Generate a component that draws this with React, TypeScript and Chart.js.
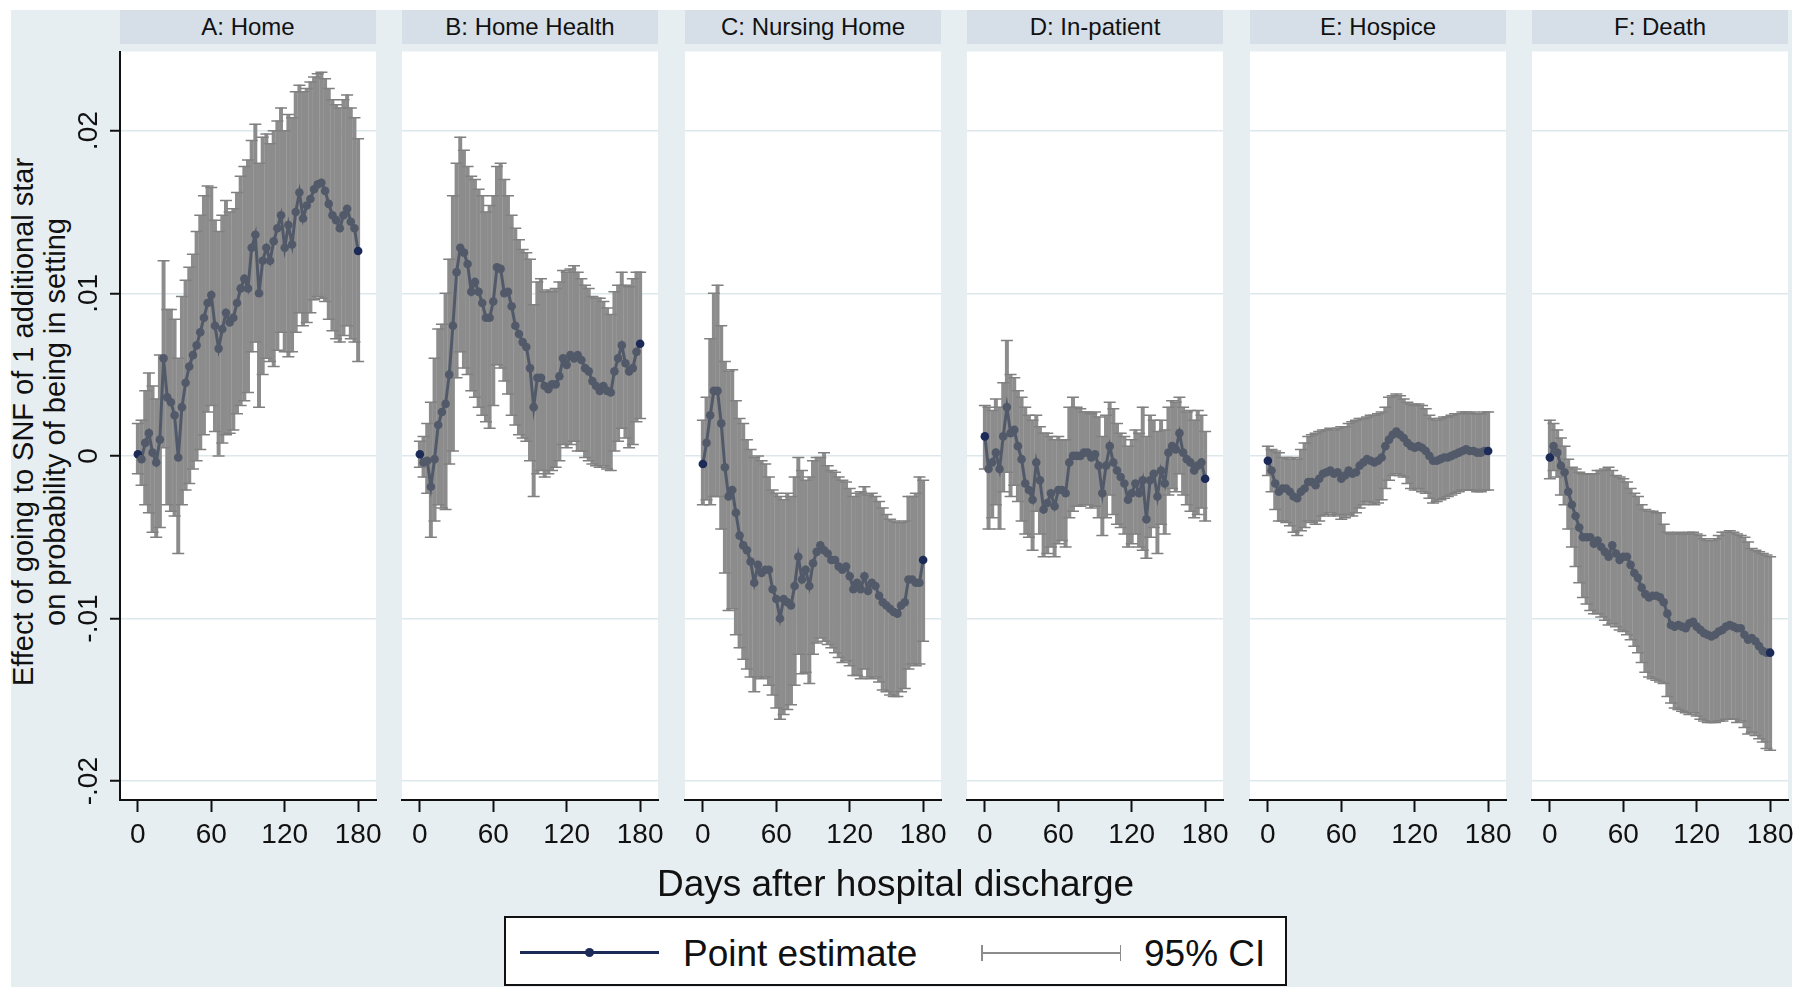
import React, { useEffect, useRef } from "react";
import { Chart, registerables } from "chart.js";

Chart.register(...registerables);

// ---------------- data ----------------
const days = [0, 3, 6, 9, 12, 15, 18, 21, 24, 27, 30, 33, 36, 39, 42, 45, 48, 51, 54, 57, 60, 63, 66, 69, 72, 75, 78, 81, 84, 87, 90, 93, 96, 99, 102, 105, 108, 111, 114, 117, 120, 123, 126, 129, 132, 135, 138, 141, 144, 147, 150, 153, 156, 159, 162, 165, 168, 171, 174, 177, 180];

const panelTitles = ["A: Home", "B: Home Health", "C: Nursing Home", "D: In-patient", "E: Hospice", "F: Death"];
const xTickValues = [0, 60, 120, 180];
const xTickLabels = ["0", "60", "120", "180"];
const yTickValues = [-0.02, -0.01, 0, 0.01, 0.02];
const yTickLabels = ["-.02", "-.01", "0", ".01", ".02"];
const yAxisTitleLines = ["Effect of going to SNF of 1 additional star", "on probability of being in setting"];
const xAxisTitle = "Days after hospital discharge";
const legendLabels = ["Point estimate", "95% CI"];

// A: Home
const homeEst = [0.0001, -0.0002, 0.0008, 0.0014, 0.0002, -0.0004, 0.0010, 0.0060, 0.0036, 0.0033,
  0.0025, -0.0001, 0.0030, 0.0045, 0.0055, 0.0062, 0.0068, 0.0076, 0.0085, 0.0094,
  0.0099, 0.0080, 0.0066, 0.0078, 0.0088, 0.0082, 0.0085, 0.0094, 0.0103, 0.0109,
  0.0103, 0.0128, 0.0136, 0.0100, 0.0120, 0.0128, 0.0120, 0.0132, 0.0140, 0.0148,
  0.0128, 0.0142, 0.0130, 0.0150, 0.0162, 0.0146, 0.0154, 0.0158, 0.0164, 0.0167,
  0.0168, 0.0163, 0.0155, 0.0148, 0.0145, 0.0140, 0.0148, 0.0152, 0.0144, 0.0140,
  0.0126];
const homeLo = [-0.0011, -0.0018, -0.0030, -0.0035, -0.0047, -0.0050, -0.0044, 0.0005, -0.0030, -0.0034,
  -0.0037, -0.0060, -0.0030, -0.0021, -0.0017, -0.0008, -0.0003, 0.0004, 0.0013, 0.0027,
  0.0031, 0.0015, 0.0000, 0.0008, 0.0013, 0.0014, 0.0016, 0.0026, 0.0031, 0.0034,
  0.0039, 0.0064, 0.0070, 0.0030, 0.0050, 0.0060, 0.0058, 0.0055, 0.0065, 0.0076,
  0.0064, 0.0061, 0.0064, 0.0076, 0.0088, 0.0080, 0.0082, 0.0088, 0.0096, 0.0098,
  0.0097, 0.0095, 0.0084, 0.0077, 0.0072, 0.0070, 0.0074, 0.0080, 0.0072, 0.0070,
  0.0058];
const homeHi = [0.0020, 0.0022, 0.0040, 0.0051, 0.0043, 0.0035, 0.0062, 0.0120, 0.0090, 0.0090,
  0.0084, 0.0060, 0.0098, 0.0108, 0.0116, 0.0124, 0.0138, 0.0148, 0.0160, 0.0166,
  0.0165, 0.0145, 0.0138, 0.0148, 0.0157, 0.0150, 0.0152, 0.0162, 0.0172, 0.0178,
  0.0182, 0.0194, 0.0204, 0.0180, 0.0196, 0.0198, 0.0192, 0.0200, 0.0206, 0.0214,
  0.0200, 0.0210, 0.0208, 0.0224, 0.0228, 0.0224, 0.0226, 0.0230, 0.0233, 0.0235,
  0.0236, 0.0232, 0.0226, 0.0219, 0.0216, 0.0214, 0.0219, 0.0222, 0.0214, 0.0208,
  0.0195];

// B: Home Health
const homeHealthEst = [0.0001, -0.0004, -0.0003, -0.0019, -0.0002, 0.0019, 0.0027, 0.0032, 0.0050, 0.0080,
  0.0113, 0.0128, 0.0125, 0.0118, 0.0101, 0.0107, 0.0101, 0.0094, 0.0085, 0.0085,
  0.0095, 0.0116, 0.0115, 0.0100, 0.0101, 0.0092, 0.0080, 0.0075, 0.0070, 0.0067,
  0.0054, 0.0030, 0.0048, 0.0048, 0.0043, 0.0041, 0.0044, 0.0044, 0.0049, 0.0060,
  0.0056, 0.0062, 0.0060, 0.0062, 0.0059, 0.0054, 0.0052, 0.0046, 0.0043, 0.0040,
  0.0043, 0.0040, 0.0039, 0.0052, 0.0060, 0.0068, 0.0057, 0.0052, 0.0054, 0.0064,
  0.0069];
const homeHealthLo = [-0.0007, -0.0013, -0.0023, -0.0050, -0.0040, -0.0030, -0.0032, -0.0033, -0.0005, 0.0003,
  0.0048, 0.0064, 0.0054, 0.0050, 0.0040, 0.0036, 0.0030, 0.0025, 0.0021, 0.0017,
  0.0031, 0.0056, 0.0054, 0.0046, 0.0038, 0.0025, 0.0019, 0.0013, 0.0011, 0.0009,
  -0.0003, -0.0025, -0.0011, -0.0009, -0.0013, -0.0011, -0.0009, -0.0007, -0.0003, 0.0007,
  0.0005, 0.0007, 0.0009, 0.0003, 0.0003, -0.0001, -0.0003, -0.0005, -0.0006, -0.0007,
  -0.0006, -0.0008, -0.0009, 0.0003, 0.0009, 0.0017, 0.0011, 0.0005, 0.0007, 0.0021,
  0.0023];
const homeHealthHi = [0.0009, 0.0012, 0.0020, 0.0033, 0.0060, 0.0078, 0.0081, 0.0100, 0.0121, 0.0160,
  0.0180, 0.0196, 0.0188, 0.0178, 0.0172, 0.0170, 0.0164, 0.0160, 0.0150, 0.0154,
  0.0160, 0.0178, 0.0180, 0.0170, 0.0160, 0.0148, 0.0140, 0.0133, 0.0127, 0.0125,
  0.0121, 0.0093, 0.0107, 0.0109, 0.0101, 0.0102, 0.0101, 0.0103, 0.0107, 0.0114,
  0.0113, 0.0115, 0.0117, 0.0113, 0.0109, 0.0105, 0.0103, 0.0098, 0.0097, 0.0097,
  0.0095, 0.0091, 0.0087, 0.0101, 0.0105, 0.0113, 0.0105, 0.0104, 0.0109, 0.0113,
  0.0113];

// C: Nursing Home
const nursingEst = [-0.0005, 0.0008, 0.0025, 0.0040, 0.0040, 0.0020, -0.0007, -0.0025, -0.0021, -0.0035,
  -0.0049, -0.0055, -0.0058, -0.0065, -0.0078, -0.0067, -0.0072, -0.0070, -0.0070, -0.0082,
  -0.0088, -0.0100, -0.0088, -0.0090, -0.0092, -0.0080, -0.0062, -0.0076, -0.0070, -0.0080,
  -0.0066, -0.0059, -0.0055, -0.0058, -0.0060, -0.0064, -0.0064, -0.0068, -0.0070, -0.0068,
  -0.0074, -0.0082, -0.0078, -0.0082, -0.0074, -0.0083, -0.0078, -0.0080, -0.0086, -0.0090,
  -0.0092, -0.0094, -0.0096, -0.0097, -0.0092, -0.0090, -0.0076, -0.0076, -0.0078, -0.0078,
  -0.0064];
const nursingLo = [-0.0030, -0.0027, -0.0030, -0.0025, -0.0025, -0.0045, -0.0072, -0.0095, -0.0094, -0.0110,
  -0.0118, -0.0125, -0.0131, -0.0136, -0.0145, -0.0136, -0.0137, -0.0136, -0.0141, -0.0147,
  -0.0155, -0.0162, -0.0159, -0.0156, -0.0153, -0.0141, -0.0122, -0.0134, -0.0133, -0.0140,
  -0.0122, -0.0115, -0.0112, -0.0114, -0.0116, -0.0118, -0.0121, -0.0124, -0.0127, -0.0126,
  -0.0129, -0.0135, -0.0135, -0.0137, -0.0131, -0.0136, -0.0137, -0.0136, -0.0139, -0.0144,
  -0.0145, -0.0147, -0.0148, -0.0148, -0.0145, -0.0143, -0.0131, -0.0128, -0.0129, -0.0128,
  -0.0114];
const nursingHi = [0.0022, 0.0036, 0.0072, 0.0100, 0.0105, 0.0080, 0.0058, 0.0052, 0.0053, 0.0034,
  0.0023, 0.0020, 0.0010, 0.0004, -0.0001, 0.0000, -0.0003, -0.0005, -0.0013, -0.0021,
  -0.0023, -0.0025, -0.0027, -0.0023, -0.0025, -0.0013, -0.0001, -0.0009, -0.0015, -0.0013,
  -0.0003, -0.0001, -0.0001, 0.0002, -0.0006, -0.0009, -0.0010, -0.0013, -0.0015, -0.0016,
  -0.0020, -0.0025, -0.0023, -0.0022, -0.0019, -0.0024, -0.0023, -0.0025, -0.0028, -0.0032,
  -0.0036, -0.0039, -0.0040, -0.0041, -0.0041, -0.0040, -0.0025, -0.0025, -0.0023, -0.0013,
  -0.0015];

// D: In-patient
const inpatientEst = [0.0012, -0.0008, -0.0004, 0.0002, -0.0008, 0.0012, 0.0030, 0.0014, 0.0016, 0.0006,
  -0.0002, -0.0017, -0.0021, -0.0027, -0.0004, -0.0015, -0.0033, -0.0029, -0.0023, -0.0031,
  -0.0021, -0.0021, -0.0023, -0.0004, 0.0000, 0.0000, 0.0000, 0.0002, 0.0002, -0.0001,
  0.0001, -0.0006, -0.0023, -0.0006, 0.0006, -0.0004, -0.0009, -0.0013, -0.0017, -0.0027,
  -0.0023, -0.0017, -0.0023, -0.0015, -0.0039, -0.0015, -0.0011, -0.0025, -0.0009, -0.0017,
  0.0002, 0.0006, 0.0004, 0.0014, 0.0002, -0.0002, -0.0004, -0.0009, -0.0006, -0.0004,
  -0.0014];
const inpatientLo = [-0.0008, -0.0045, -0.0038, -0.0030, -0.0045, -0.0022, -0.0010, -0.0025, -0.0018, -0.0028,
  -0.0040, -0.0048, -0.0050, -0.0058, -0.0034, -0.0048, -0.0062, -0.0060, -0.0056, -0.0062,
  -0.0054, -0.0052, -0.0056, -0.0038, -0.0034, -0.0031, -0.0031, -0.0030, -0.0030, -0.0032,
  -0.0031, -0.0038, -0.0049, -0.0038, -0.0024, -0.0036, -0.0042, -0.0044, -0.0048, -0.0056,
  -0.0054, -0.0048, -0.0056, -0.0058, -0.0063, -0.0050, -0.0044, -0.0060, -0.0042, -0.0048,
  -0.0024, -0.0020, -0.0022, -0.0011, -0.0024, -0.0030, -0.0034, -0.0038, -0.0036, -0.0032,
  -0.0040];
const inpatientHi = [0.0031, 0.0030, 0.0028, 0.0035, 0.0030, 0.0045, 0.0071, 0.0050, 0.0048, 0.0040,
  0.0036, 0.0030, 0.0025, 0.0022, 0.0025, 0.0018, 0.0014, 0.0014, 0.0012, 0.0010,
  0.0012, 0.0010, 0.0010, 0.0030, 0.0036, 0.0030, 0.0029, 0.0027, 0.0027, 0.0026,
  0.0027, 0.0024, 0.0012, 0.0025, 0.0033, 0.0029, 0.0020, 0.0014, 0.0012, 0.0006,
  0.0010, 0.0016, 0.0014, 0.0030, 0.0012, 0.0025, 0.0022, 0.0015, 0.0022, 0.0016,
  0.0030, 0.0034, 0.0033, 0.0036, 0.0030, 0.0027, 0.0028, 0.0022, 0.0028, 0.0025,
  0.0015];

// E: Hospice
const hospiceEst = [-0.0003, -0.0009, -0.0017, -0.0022, -0.0020, -0.0020, -0.0022, -0.0025, -0.0026, -0.0022,
  -0.0020, -0.0016, -0.0016, -0.0018, -0.0014, -0.0011, -0.0010, -0.0009, -0.0011, -0.0010,
  -0.0014, -0.0012, -0.0009, -0.0011, -0.0010, -0.0006, -0.0004, -0.0002, -0.0003, -0.0004,
  -0.0003, -0.0001, 0.0006, 0.0010, 0.0013, 0.0015, 0.0013, 0.0011, 0.0008, 0.0006,
  0.0005, 0.0006, 0.0005, 0.0003, 0.0000, -0.0003, -0.0003, -0.0002, -0.0001, -0.0001,
  0.0000, 0.0001, 0.0002, 0.0003, 0.0004, 0.0003, 0.0003, 0.0002, 0.0002, 0.0003,
  0.0003];
const hospiceLo = [-0.0012, -0.0022, -0.0033, -0.0040, -0.0040, -0.0041, -0.0043, -0.0047, -0.0049, -0.0046,
  -0.0044, -0.0040, -0.0041, -0.0042, -0.0040, -0.0037, -0.0036, -0.0035, -0.0037, -0.0036,
  -0.0039, -0.0038, -0.0036, -0.0037, -0.0035, -0.0032, -0.0030, -0.0028, -0.0029, -0.0030,
  -0.0029, -0.0027, -0.0020, -0.0015, -0.0012, -0.0011, -0.0012, -0.0013, -0.0017, -0.0020,
  -0.0021, -0.0020, -0.0022, -0.0023, -0.0026, -0.0029, -0.0028, -0.0027, -0.0026, -0.0025,
  -0.0024, -0.0023, -0.0022, -0.0021, -0.0021, -0.0021, -0.0021, -0.0022, -0.0022, -0.0021,
  -0.0021];
const hospiceHi = [0.0006, 0.0004, 0.0003, 0.0002, -0.0001, -0.0001, -0.0002, -0.0001, -0.0002, 0.0004,
  0.0008, 0.0012, 0.0013, 0.0014, 0.0015, 0.0016, 0.0016, 0.0017, 0.0016, 0.0017,
  0.0018, 0.0018, 0.0020, 0.0021, 0.0022, 0.0023, 0.0023, 0.0024, 0.0025, 0.0025,
  0.0026, 0.0027, 0.0030, 0.0036, 0.0037, 0.0038, 0.0037, 0.0035, 0.0033, 0.0032,
  0.0031, 0.0032, 0.0031, 0.0029, 0.0025, 0.0023, 0.0022, 0.0023, 0.0024, 0.0024,
  0.0025, 0.0026, 0.0026, 0.0027, 0.0027, 0.0026, 0.0027, 0.0026, 0.0026, 0.0027,
  0.0027];

// F: Death
const deathEst = [-0.0001, 0.0006, 0.0002, -0.0006, -0.0010, -0.0022, -0.0030, -0.0037, -0.0044, -0.0050,
  -0.0050, -0.0050, -0.0054, -0.0052, -0.0056, -0.0059, -0.0062, -0.0055, -0.0060, -0.0064,
  -0.0062, -0.0062, -0.0067, -0.0072, -0.0075, -0.0081, -0.0085, -0.0087, -0.0086, -0.0086,
  -0.0087, -0.0090, -0.0097, -0.0104, -0.0105, -0.0104, -0.0105, -0.0106, -0.0103, -0.0102,
  -0.0105, -0.0107, -0.0109, -0.0110, -0.0111, -0.0110, -0.0108, -0.0107, -0.0105, -0.0104,
  -0.0105, -0.0106, -0.0106, -0.0110, -0.0113, -0.0112, -0.0114, -0.0117, -0.0120, -0.0121,
  -0.0121];
const deathLo = [-0.0014, -0.0009, -0.0013, -0.0024, -0.0030, -0.0045, -0.0056, -0.0068, -0.0078, -0.0087,
  -0.0091, -0.0095, -0.0097, -0.0097, -0.0099, -0.0101, -0.0104, -0.0103, -0.0105, -0.0107,
  -0.0108, -0.0110, -0.0113, -0.0117, -0.0121, -0.0127, -0.0133, -0.0136, -0.0137, -0.0138,
  -0.0139, -0.0140, -0.0148, -0.0152, -0.0155, -0.0156, -0.0157, -0.0158, -0.0159, -0.0158,
  -0.0160, -0.0162, -0.0163, -0.0164, -0.0164, -0.0164, -0.0163, -0.0163, -0.0162, -0.0162,
  -0.0162, -0.0164, -0.0163, -0.0167, -0.0171, -0.0170, -0.0172, -0.0174, -0.0176, -0.0180,
  -0.0181];
const deathHi = [0.0022, 0.0020, 0.0016, 0.0011, 0.0006, -0.0002, -0.0007, -0.0008, -0.0010, -0.0011,
  -0.0011, -0.0011, -0.0011, -0.0009, -0.0009, -0.0008, -0.0007, -0.0009, -0.0012, -0.0013,
  -0.0014, -0.0016, -0.0020, -0.0023, -0.0025, -0.0030, -0.0033, -0.0034, -0.0034, -0.0035,
  -0.0035, -0.0042, -0.0047, -0.0048, -0.0048, -0.0047, -0.0048, -0.0048, -0.0047, -0.0047,
  -0.0048, -0.0049, -0.0051, -0.0052, -0.0052, -0.0051, -0.0049, -0.0047, -0.0047, -0.0046,
  -0.0047, -0.0048, -0.0049, -0.0050, -0.0053, -0.0057, -0.0058, -0.0059, -0.0060, -0.0061,
  -0.0062];

const panelSeries = [
  { est: homeEst, lo: homeLo, hi: homeHi },
  { est: homeHealthEst, lo: homeHealthLo, hi: homeHealthHi },
  { est: nursingEst, lo: nursingLo, hi: nursingHi },
  { est: inpatientEst, lo: inpatientLo, hi: inpatientHi },
  { est: hospiceEst, lo: hospiceLo, hi: hospiceHi },
  { est: deathEst, lo: deathLo, hi: deathHi },
];

// ---------------- style / layout ----------------
const FONT = '"Liberation Sans", Arial, Helvetica, sans-serif';
const TEXT = "#111111";
const OUTER_BG = "#e7eef1";
const HEADER_BG = "#d6dfe7";
const GRID = "#dde8ec";
const AXIS = "#111111";
const CI_COLOR = "#8c8c8c";
const CAP_COLOR = "#808080";
const EST_COLOR = "#525a6a";
const NAVY = "#1c2a58";

const X_MIN = -14.6;
const X_MAX = 194.6;
const Y_MIN = -0.02116;
const Y_MAX = 0.02487;

const PANEL_LEFTS = [120, 402, 685, 967, 1250, 1532];
const PANEL_W = 256;
const PLOT_TOP = 44;
const CANVAS_BOTTOM = 870;
const X_AXIS_H = 70;

function Panel({ idx }: { idx: number }) {
  const ref = useRef<HTMLCanvasElement | null>(null);
  const showY = idx === 0;
  const padL = showY ? 60 : 12;
  const padR = 14;
  const left = PANEL_LEFTS[idx] - padL;
  const width = padL + PANEL_W + padR;
  const height = CANVAS_BOTTOM - PLOT_TOP;
  const s = panelSeries[idx];

  useEffect(() => {
    const canvas = ref.current;
    if (!canvas) return;
    const last = days.length - 1;

    const plotBg = {
      id: "plotBg",
      beforeDraw(chart: any) {
        const { ctx, chartArea: a } = chart;
        ctx.save();
        ctx.fillStyle = "#ffffff";
        ctx.fillRect(a.left, a.top, a.right - a.left, a.bottom - a.top);
        ctx.restore();
      },
    };
    const yLabels = {
      id: "yLabels",
      afterDraw(chart: any) {
        if (!showY) return;
        const { ctx, chartArea: a } = chart;
        const ys = chart.scales.y;
        ctx.save();
        ctx.font = `28px ${FONT}`;
        ctx.fillStyle = TEXT;
        ctx.textAlign = "center";
        ctx.textBaseline = "alphabetic";
        yTickValues.forEach((v, i) => {
          const py = ys.getPixelForValue(v);
          ctx.save();
          ctx.translate(a.left - 23, py);
          ctx.rotate(-Math.PI / 2);
          ctx.fillText(yTickLabels[i], 0, 0);
          ctx.restore();
        });
        ctx.restore();
      },
    };

    const chart = new Chart(canvas, {
      type: "scatter",
      data: {
        datasets: [
          {
            type: "line",
            data: days.map((d, i) => ({ x: d, y: s.est[i] })),
            borderColor: EST_COLOR,
            borderWidth: 3,
            tension: 0,
            pointRadius: 4.3,
            pointBorderWidth: 0,
            pointBackgroundColor: (c: any) => (c.dataIndex === 0 || c.dataIndex === last ? NAVY : EST_COLOR),
            pointBorderColor: (c: any) => (c.dataIndex === 0 || c.dataIndex === last ? NAVY : EST_COLOR),
            order: 1,
          } as any,
          {
            type: "scatter",
            data: days.flatMap((d, i) => [
              { x: d, y: s.lo[i] },
              { x: d, y: s.hi[i] },
            ]),
            pointStyle: "line",
            pointRadius: 6,
            pointBorderWidth: 1.5,
            pointBorderColor: CAP_COLOR,
            pointBackgroundColor: CAP_COLOR,
            order: 2,
          } as any,
          {
            type: "bar",
            data: days.map((d, i) => ({ x: d, y: [s.lo[i], s.hi[i]] })),
            backgroundColor: CI_COLOR,
            borderWidth: 0,
            barThickness: 3.3,
            order: 3,
          } as any,
        ],
      },
      options: {
        animation: false,
        responsive: false,
        devicePixelRatio: 1,
        events: [],
        layout: { padding: { left: 0, right: padR, top: 0, bottom: 0 } },
        plugins: { legend: { display: false }, tooltip: { enabled: false }, title: { display: false } },
        scales: {
          x: {
            type: "linear",
            min: X_MIN,
            max: X_MAX,
            offset: false,
            afterBuildTicks: (sc: any) => {
              sc.ticks = xTickValues.map((v) => ({ value: v }));
            },
            afterFit: (sc: any) => {
              sc.height = X_AXIS_H;
              sc.paddingLeft = 0;
              sc.paddingRight = 0;
            },
            grid: {
              display: true,
              offset: false,
              drawOnChartArea: false,
              drawTicks: true,
              tickLength: 12,
              tickWidth: 2,
              tickColor: AXIS,
            },
            border: { display: true, color: AXIS, width: 2 },
            ticks: {
              autoSkip: false,
              maxRotation: 0,
              minRotation: 0,
              padding: 6,
              color: TEXT,
              font: { family: FONT, size: 28 },
              callback: (v: any) => {
                const k = xTickValues.indexOf(Number(v));
                return k >= 0 ? xTickLabels[k] : "";
              },
            },
          },
          y: {
            type: "linear",
            min: Y_MIN,
            max: Y_MAX,
            afterBuildTicks: (sc: any) => {
              sc.ticks = yTickValues.map((v) => ({ value: v }));
            },
            afterFit: (sc: any) => {
              sc.width = padL;
              sc.paddingTop = 0;
              sc.paddingBottom = 0;
            },
            grid: {
              display: true,
              color: GRID,
              lineWidth: 1.5,
              drawOnChartArea: true,
              drawTicks: showY,
              tickLength: 10,
              tickWidth: 2,
              tickColor: AXIS,
            },
            border: { display: showY, color: AXIS, width: 2 },
            ticks: { display: false },
          },
        },
      } as any,
      plugins: [plotBg, yLabels],
    });
    return () => chart.destroy();
  }, []);

  return (
    <>
      <div
        style={{
          position: "absolute",
          left: PANEL_LEFTS[idx],
          top: 10,
          width: PANEL_W,
          height: 34,
          background: HEADER_BG,
          color: TEXT,
          fontFamily: FONT,
          fontSize: 24,
          display: "flex",
          alignItems: "center",
          justifyContent: "center",
          whiteSpace: "nowrap",
        }}
      >
        {panelTitles[idx]}
      </div>
      <canvas
        ref={ref}
        width={width}
        height={height}
        style={{ position: "absolute", left, top: PLOT_TOP, width, height }}
      />
    </>
  );
}

export default function App() {
  return (
    <div
      style={{
        position: "absolute",
        left: 0,
        top: 0,
        width: 1800,
        height: 998,
        background: "#ffffff",
        overflow: "hidden",
        fontFamily: FONT,
      }}
    >
      <div style={{ position: "absolute", left: 11, top: 10, width: 1781, height: 977, background: OUTER_BG }} />

      {/* y axis title (two rotated lines) */}
      <div
        style={{
          position: "absolute",
          left: 38.6 - 350,
          top: 422 - 32,
          width: 700,
          height: 64,
          transform: "rotate(-90deg)",
          transformOrigin: "50% 50%",
          textAlign: "center",
          fontSize: 29,
          lineHeight: "32px",
          color: TEXT,
          whiteSpace: "nowrap",
        }}
      >
        <div>{yAxisTitleLines[0]}</div>
        <div>{yAxisTitleLines[1]}</div>
      </div>

      {panelTitles.map((_, i) => (
        <Panel key={i} idx={i} />
      ))}

      {/* x axis title */}
      <div
        style={{
          position: "absolute",
          left: 895.5 - 400,
          top: 865.4,
          width: 800,
          textAlign: "center",
          fontSize: 37,
          lineHeight: "37px",
          color: TEXT,
          whiteSpace: "nowrap",
        }}
      >
        {xAxisTitle}
      </div>

      {/* legend */}
      <div
        style={{
          position: "absolute",
          left: 504,
          top: 916,
          width: 783,
          height: 70,
          boxSizing: "border-box",
          border: "2px solid #111",
          background: "#ffffff",
        }}
      >
        <div style={{ position: "absolute", left: 14, top: 33, width: 139, height: 3, background: NAVY }} />
        <div
          style={{
            position: "absolute",
            left: 83 - 4.5,
            top: 34.5 - 4.5,
            width: 9,
            height: 9,
            borderRadius: "50%",
            background: NAVY,
          }}
        />
        <div
          style={{
            position: "absolute",
            left: 177,
            top: 17.4,
            fontSize: 37,
            lineHeight: "37px",
            color: TEXT,
            whiteSpace: "nowrap",
          }}
        >
          {legendLabels[0]}
        </div>
        <div style={{ position: "absolute", left: 475, top: 34, width: 140, height: 1.5, background: CI_COLOR }} />
        <div style={{ position: "absolute", left: 475, top: 27, width: 1.5, height: 16, background: CI_COLOR }} />
        <div style={{ position: "absolute", left: 613.5, top: 27, width: 1.5, height: 16, background: CI_COLOR }} />
        <div
          style={{
            position: "absolute",
            left: 638,
            top: 17.4,
            fontSize: 37,
            lineHeight: "37px",
            color: TEXT,
            whiteSpace: "nowrap",
          }}
        >
          {legendLabels[1]}
        </div>
      </div>
    </div>
  );
}
